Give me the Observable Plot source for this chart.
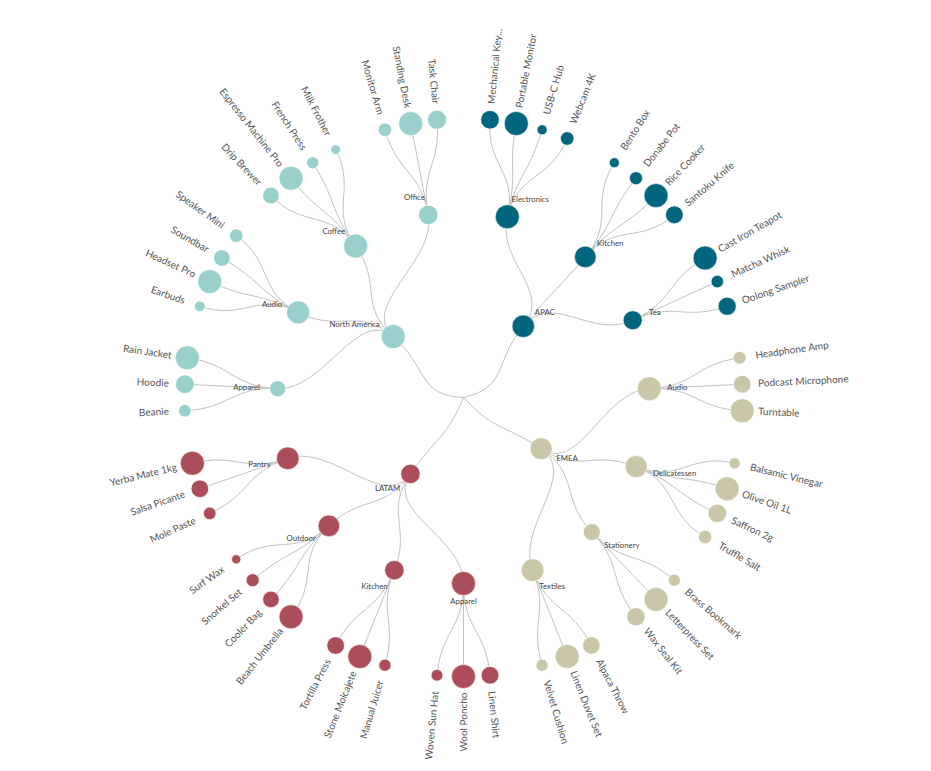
<!DOCTYPE html>
<html><head><meta charset="utf-8">
<script src="https://cdn.jsdelivr.net/npm/d3@7"></script>
<script src="https://cdn.jsdelivr.net/npm/@observablehq/plot@0.6"></script>
<style>html,body{margin:0;padding:0;background:#fff}#chart svg{display:block}</style>
</head><body><div id="chart"></div>
<script>
// ---- data ----
const regions = ["APAC", "EMEA", "LATAM", "North America"];
const regionColors = ["#00657f", "#c9c7a8", "#ac4e5a", "#99d0cc"];

const productRegion = [
  "APAC","APAC","APAC","APAC","APAC","APAC","APAC","APAC","APAC","APAC","APAC",
  "EMEA","EMEA","EMEA","EMEA","EMEA","EMEA","EMEA","EMEA","EMEA","EMEA","EMEA","EMEA","EMEA",
  "LATAM","LATAM","LATAM","LATAM","LATAM","LATAM","LATAM","LATAM","LATAM","LATAM","LATAM","LATAM","LATAM",
  "North America","North America","North America","North America","North America","North America","North America",
  "North America","North America","North America","North America","North America","North America","North America"
];
const productCategory = [
  "Electronics","Electronics","Electronics","Electronics","Kitchen","Kitchen","Kitchen","Kitchen","Tea","Tea","Tea",
  "Audio","Audio","Audio","Delicatessen","Delicatessen","Delicatessen","Delicatessen","Stationery","Stationery","Stationery","Textiles","Textiles","Textiles",
  "Apparel","Apparel","Apparel","Kitchen","Kitchen","Kitchen","Outdoor","Outdoor","Outdoor","Outdoor","Pantry","Pantry","Pantry",
  "Apparel","Apparel","Apparel","Audio","Audio","Audio","Audio","Coffee","Coffee","Coffee","Coffee","Office","Office","Office"
];
const productName = [
  "Mechanical Key...","Portable Monitor","USB-C Hub","Webcam 4K","Bento Box","Donabe Pot","Rice Cooker","Santoku Knife","Cast Iron Teapot","Matcha Whisk","Oolong Sampler",
  "Headphone Amp","Podcast Microphone","Turntable","Balsamic Vinegar","Olive Oil 1L","Saffron 2g","Truffle Salt","Brass Bookmark","Letterpress Set","Wax Seal Kit","Alpaca Throw","Linen Duvet Set","Velvet Cushion",
  "Linen Shirt","Wool Poncho","Woven Sun Hat","Manual Juicer","Stone Molcajete","Tortilla Press","Beach Umbrella","Cooler Bag","Snorkel Set","Surf Wax","Mole Paste","Salsa Picante","Yerba Mate 1kg",
  "Beanie","Hoodie","Rain Jacket","Earbuds","Headset Pro","Soundbar","Speaker Mini","Drip Brewer","Espresso Machine Pro","French Press","Milk Frother","Monitor Arm","Standing Desk","Task Chair"
];
const productSales = [
  102, 171, 30, 54, 25, 42, 144, 78, 122, 33, 69,
  40, 77, 143, 22, 104, 61, 32, 18, 71, 41, 68, 130, 33,
  59, 109, 26, 18, 71, 38, 82, 39, 24, 12, 26, 51, 95,
  21, 47, 79, 30, 154, 73, 48, 84, 176, 44, 28, 35, 112, 70
];

// ---- hierarchy & radial cluster layout ----
const rows = productName.map((p, i) => ({region: productRegion[i], category: productCategory[i], product: p, sales: productSales[i]}));
const grouped = d3.group(rows, d => d.region, d => d.category);
const treeData = {name: "All", children: Array.from(grouped, ([reg, cats]) => ({
  name: reg, region: reg,
  children: Array.from(cats, ([cat, items]) => ({
    name: cat, region: reg,
    children: items.map(d => ({name: d.product, region: reg, value: d.sales}))
  }))
}))};
const root = d3.hierarchy(treeData).sum(d => d.value || 0)
  .sort((a, b) => d3.ascending(a.data.name, b.data.name));
const R = 279;
d3.cluster().size([2 * Math.PI, R]).separation((a, b) => a.parent === b.parent ? 1 : 2)(root);

const px = (a, r) => r * Math.sin(a);
const py = (a, r) => -r * Math.cos(a);

const nodes = root.descendants().filter(d => d.depth > 0).map(d => {
  const maxSib = d3.max(d.parent.children, c => c.value);
  const leaf = !d.children;
  const lr = leaf ? R + 16 : d.y + 18;
  const deg = d.x * 180 / Math.PI;
  const right = d.x < Math.PI;
  return {
    name: d.data.name, region: d.data.region, depth: d.depth, leaf,
    x: px(d.x, d.y), y: py(d.x, d.y), share: d.value / maxSib,
    lx: px(d.x, lr), ly: py(d.x, lr),
    side: leaf ? (right ? "start" : "end")
               : (Math.abs(Math.sin(d.x)) < 0.03 ? "middle" : (right ? "start" : "end")),
    rot: right ? deg - 90 : deg + 90
  };
});

const linkPts = [];
root.links().forEach((l, i) => {
  const s = l.source, t = l.target;
  const rm = (s.y + t.y) / 2;
  const a1 = s.depth === 0 ? s.x + 0.72 * (t.x - s.x) : s.x;
  [[s.x, s.y], [a1, rm], [t.x, rm], [t.x, t.y]].forEach(([a, r]) =>
    linkPts.push({id: i, x: px(a, r), y: py(a, r)}));
});

// cubic curve through the 4 control points of each link
function radialBezier(context) {
  let pts = [];
  return {
    areaStart() {}, areaEnd() {},
    lineStart() { pts = []; },
    point(x, y) { pts.push([+x, +y]); },
    lineEnd() {
      if (pts.length < 4) return;
      const [p0, c1, c2, p3] = pts;
      context.moveTo(p0[0], p0[1]);
      context.bezierCurveTo(c1[0], c1[1], c2[0], c2[1], p3[0], p3[1]);
    }
  };
}

const leaves = nodes.filter(d => d.leaf);
const inner = nodes.filter(d => !d.leaf);
const FONT = "Lato, 'Open Sans', sans-serif";

const chart = Plot.plot({
  width: 931, height: 771,
  marginTop: 0, marginRight: 0, marginBottom: 0, marginLeft: 0,
  style: {fontFamily: FONT, background: "#fff"},
  x: {domain: [-463, 468], range: [0, 931], axis: null},
  y: {domain: [-397, 374], range: [0, 771], axis: null},
  r: {type: "sqrt", domain: [0, 1], range: [0, 12]},
  color: {domain: regions, range: regionColors},
  marks: [
    Plot.line(linkPts, {x: "x", y: "y", z: "id", stroke: "#c2c2c2", strokeWidth: 1, curve: radialBezier}),
    Plot.dot(nodes, {x: "x", y: "y", r: "share", fill: "region", stroke: "#fff", strokeWidth: 0.6}),
    Plot.text(leaves.filter(d => d.side === "start"), {x: "lx", y: "ly", text: "name", rotate: "rot", textAnchor: "start", fontSize: 10, fill: "#555"}),
    Plot.text(leaves.filter(d => d.side === "end"), {x: "lx", y: "ly", text: "name", rotate: "rot", textAnchor: "end", fontSize: 10, fill: "#555"}),
    Plot.text(inner.filter(d => d.side === "start"), {x: "lx", y: "ly", text: "name", textAnchor: "start", fontSize: 7.8, fill: "#444"}),
    Plot.text(inner.filter(d => d.side === "end"), {x: "lx", y: "ly", text: "name", textAnchor: "end", fontSize: 7.8, fill: "#444"}),
    Plot.text(inner.filter(d => d.side === "middle"), {x: "lx", y: "ly", text: "name", textAnchor: "middle", fontSize: 7.8, fill: "#444"})
  ]
});
document.getElementById("chart").appendChild(chart);
</script>
</body></html>
